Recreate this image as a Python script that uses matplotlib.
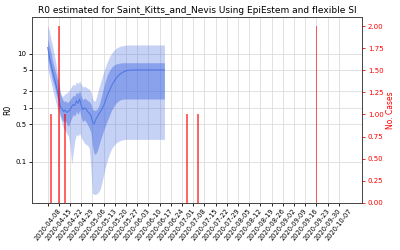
import numpy as np
import pandas as pd
import matplotlib
matplotlib.use("Agg")
import matplotlib.pyplot as plt
from matplotlib.ticker import NullLocator

# R0 estimates, daily from 2020-04-08
r_start = "2020-04-08"
r_median = [13, 9, 6.5, 4.8, 3.7, 2.8, 2.1, 1.5, 1.05, 0.95,
            0.85, 0.9, 0.82, 0.85, 0.92, 1.05, 1.15, 1.1, 1.35, 1.2,
            1.45, 1.1, 0.92, 1.0, 0.95, 0.85, 0.8, 0.72, 0.55, 0.5,
            0.6, 0.68, 0.76, 0.85, 0.95, 1.1, 1.3, 1.6, 1.9, 2.2,
            2.55, 2.9, 3.25, 3.55, 3.85, 4.1, 4.35, 4.55, 4.7, 4.8,
            4.9, 4.95, 5.0, 5.0, 5.0, 5.0, 5.0, 5.0, 5.0, 5.0,
            5.0, 5.0, 5.0, 5.0, 5.0, 5.0, 5.0, 5.0, 5.0, 5.0,
            5.0, 5.0, 5.0, 5.0]
r_lo50 = [8, 6, 4.5, 3.3, 2.6, 2.0, 1.5, 1.0, 0.7, 0.6,
          0.55, 0.58, 0.5, 0.45, 0.55, 0.65, 0.75, 0.7, 0.85, 0.75,
          0.9, 0.65, 0.55, 0.6, 0.55, 0.48, 0.42, 0.35, 0.2, 0.14,
          0.14, 0.16, 0.2, 0.25, 0.31, 0.38, 0.46, 0.55, 0.65, 0.77,
          0.9, 1.02, 1.14, 1.24, 1.32, 1.38, 1.42, 1.44, 1.45, 1.45,
          1.45, 1.45, 1.45, 1.45, 1.45, 1.45, 1.45, 1.45, 1.45, 1.45,
          1.45, 1.45, 1.45, 1.45, 1.45, 1.45, 1.45, 1.45, 1.45, 1.45,
          1.45, 1.45, 1.45, 1.45]
r_hi50 = [19, 14, 10.5, 7.5, 5.8, 4.4, 3.4, 2.5, 1.8, 1.5,
          1.3, 1.35, 1.25, 1.3, 1.4, 1.55, 1.7, 1.65, 1.95, 1.8,
          2.1, 1.65, 1.4, 1.5, 1.45, 1.35, 1.3, 1.2, 0.95, 0.9,
          0.9, 0.95, 1.1, 1.4, 1.8, 2.4, 3.1, 3.8, 4.5, 5.1,
          5.6, 6.0, 6.3, 6.5, 6.6, 6.7, 6.75, 6.8, 6.8, 6.8,
          6.8, 6.8, 6.8, 6.8, 6.8, 6.8, 6.8, 6.8, 6.8, 6.8,
          6.8, 6.8, 6.8, 6.8, 6.8, 6.8, 6.8, 6.8, 6.8, 6.8,
          6.8, 6.8, 6.8, 6.8]
r_lo95 = [5.5, 4, 3, 2.2, 1.7, 1.3, 1.0, 0.85, 0.65, 0.5,
          0.42, 0.38, 0.33, 0.3, 0.2, 0.09, 0.15, 0.25, 0.32, 0.3,
          0.34, 0.28, 0.25, 0.22, 0.21, 0.2, 0.18, 0.08, 0.026, 0.025,
          0.025, 0.026, 0.028, 0.032, 0.042, 0.058, 0.078, 0.1, 0.125, 0.15,
          0.175, 0.195, 0.21, 0.225, 0.235, 0.245, 0.25, 0.255, 0.26, 0.26,
          0.26, 0.26, 0.26, 0.26, 0.26, 0.26, 0.26, 0.26, 0.26, 0.26,
          0.26, 0.26, 0.26, 0.26, 0.26, 0.26, 0.26, 0.26, 0.26, 0.26,
          0.26, 0.26, 0.26, 0.26]
r_hi95 = [33, 27, 19, 14, 10, 7, 4.5, 2.9, 1.9, 1.6,
          1.7, 1.8, 1.9, 2.0, 2.2, 2.5, 2.7, 2.6, 3.0, 2.8,
          3.1, 2.7, 2.4, 2.5, 2.4, 2.3, 2.2, 2.0, 1.5, 1.3,
          1.4, 1.8, 2.3, 2.9, 3.6, 4.6, 5.6, 6.7, 7.9, 9.1,
          10.2, 11.2, 12.0, 12.7, 13.2, 13.6, 13.9, 14.1, 14.3, 14.4,
          14.5, 14.5, 14.5, 14.5, 14.5, 14.5, 14.5, 14.5, 14.5, 14.5,
          14.5, 14.5, 14.5, 14.5, 14.5, 14.5, 14.5, 14.5, 14.5, 14.5,
          14.5, 14.5, 14.5, 14.5]

# daily cases (only non-zero days)
case_dates = ["2020-04-10", "2020-04-15", "2020-04-19",
              "2020-07-04", "2020-07-11", "2020-09-23"]
case_counts = [1, 2, 1, 1, 1, 2]

tick_dates = pd.date_range("2020-04-08", "2020-10-07", freq="7D")
r_ticks = [0.1, 0.5, 1, 2, 5, 10]

dates = pd.date_range(r_start, periods=len(r_median), freq="D")
cdates = pd.to_datetime(case_dates)

fig, ax = plt.subplots(figsize=(4, 2.5), dpi=100)
fig.subplots_adjust(left=0.08, right=0.906, top=0.931, bottom=0.189)

ax.fill_between(dates, r_lo95, r_hi95, color="royalblue", alpha=0.3, lw=0)
ax.fill_between(dates, r_lo50, r_hi50, color="royalblue", alpha=0.45, lw=0)
ax.plot(dates, r_median, color="royalblue", lw=0.7, alpha=0.8)
ax.set_yscale("log")
ax.set_yticks(r_ticks)
ax.set_yticklabels([f"{t:g}" for t in r_ticks])
ax.yaxis.set_minor_locator(NullLocator())
ax.set_ylabel("R0", fontsize=5.5, labelpad=2)
ax.grid(True, color="#dddddd", lw=0.6)
ax.set_axisbelow(True)

ax2 = ax.twinx()
ax2.bar(cdates, case_counts, width=1.0, color="red", alpha=0.6)
ax2.set_ylim(0, 2.1)
ax2.set_yticks(np.arange(0, 2.01, 0.25))
ax2.tick_params(axis="y", colors="red", labelsize=5, length=2.5, width=0.6, pad=1.5)
ax2.set_ylabel("No. Cases", color="red", fontsize=5.5, labelpad=2)

ax.set_xlim(pd.Timestamp("2020-04-08") - pd.Timedelta(days=9.8),
            pd.Timestamp("2020-04-08") + pd.Timedelta(days=196.8))
ax.set_xticks(tick_dates)
ax.set_xticklabels([d.strftime("%Y-%m-%d") for d in tick_dates],
                   rotation=52, ha="center", fontsize=4.8)
ax.tick_params(axis="y", labelsize=5, length=2.5, width=0.6, pad=1.5)
ax.tick_params(axis="x", length=2.5, width=0.6, pad=1)
for a in (ax, ax2):
    for s in a.spines.values():
        s.set_linewidth(0.6)
        s.set_color("#444444")

ax.set_title("R0 estimated for Saint_Kitts_and_Nevis Using EpiEstem and flexible SI",
             fontsize=6.5, pad=3)

fig.savefig("out.png", dpi=100)
